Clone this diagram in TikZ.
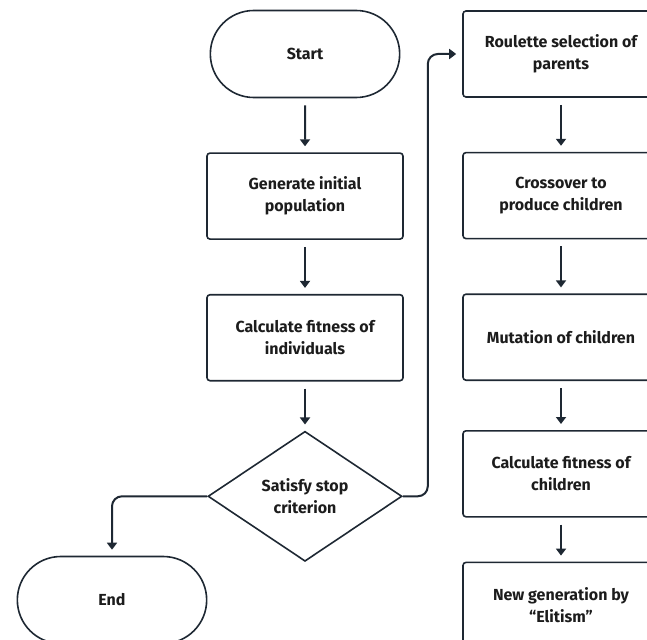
\documentclass[tikz,border=0pt]{standalone}
\usepackage{fontspec}
\setmainfont{Fira Sans}
\usetikzlibrary{arrows.meta,positioning,shapes.geometric,shapes.misc}
\definecolor{ink}{HTML}{1E2833}
\definecolor{txt}{HTML}{1C1C1C}

\begin{document}
\begin{tikzpicture}[x=1pt,y=-1pt,
  every node/.style={font=\bfseries\fontsize{16}{22}\selectfont, text=txt, align=center},
  terminal/.style={draw=ink, line width=1.6pt, rounded rectangle, minimum width=196pt, minimum height=87pt},
  stepbox/.style={draw=ink, line width=1.6pt, rounded corners=3pt, minimum width=196pt, minimum height=86pt},
  decision/.style={draw=ink, line width=1.6pt, diamond, minimum width=194pt, minimum height=130pt, inner sep=0pt},
  link/.style={draw=ink, line width=2pt, -{Triangle[length=7pt,width=10pt]}, shorten >=6pt, shorten <=7pt}]
\useasboundingbox (0,0) rectangle (647,639);
\clip (0,0) rectangle (647,639);
\node[terminal] (start) at (305,54) {Start};
\node[stepbox, below=54pt of start] (init) {Generate initial\\population};
\node[stepbox, below=54pt of init] (fit) {Calculate fitness of\\individuals};
\node[decision, below=49pt of fit] (test) {Satisfy stop\\criterion};
\node[terminal] (stop) at (112,600) {End};
\node[stepbox] (select) at (561,54) {Roulette selection of\\parents};
\node[stepbox, below=54pt of select] (cross) {Crossover to\\produce children};
\node[stepbox, below=54pt of cross] (mutate) {Mutation of children};
\node[stepbox, below=49pt of mutate] (fitkids) {Calculate fitness of\\children};
\node[stepbox, below=44pt of fitkids] (elite) {New generation by\\``Elitism''};
\draw[link] (start) -- (init);
\draw[link] (init) -- (fit);
\draw[link] (fit) -- (test);
\draw[link] (select) -- (cross);
\draw[link] (cross) -- (mutate);
\draw[link] (mutate) -- (fitkids);
\draw[link] (fitkids) -- (elite);
\draw[link, rounded corners=10pt, shorten <=0pt] (test.east) -- ++(25,0) |- (select.west);
\draw[link, rounded corners=10pt, shorten <=0pt] (test.west) -| (stop.north);
\end{tikzpicture}
\end{document}
